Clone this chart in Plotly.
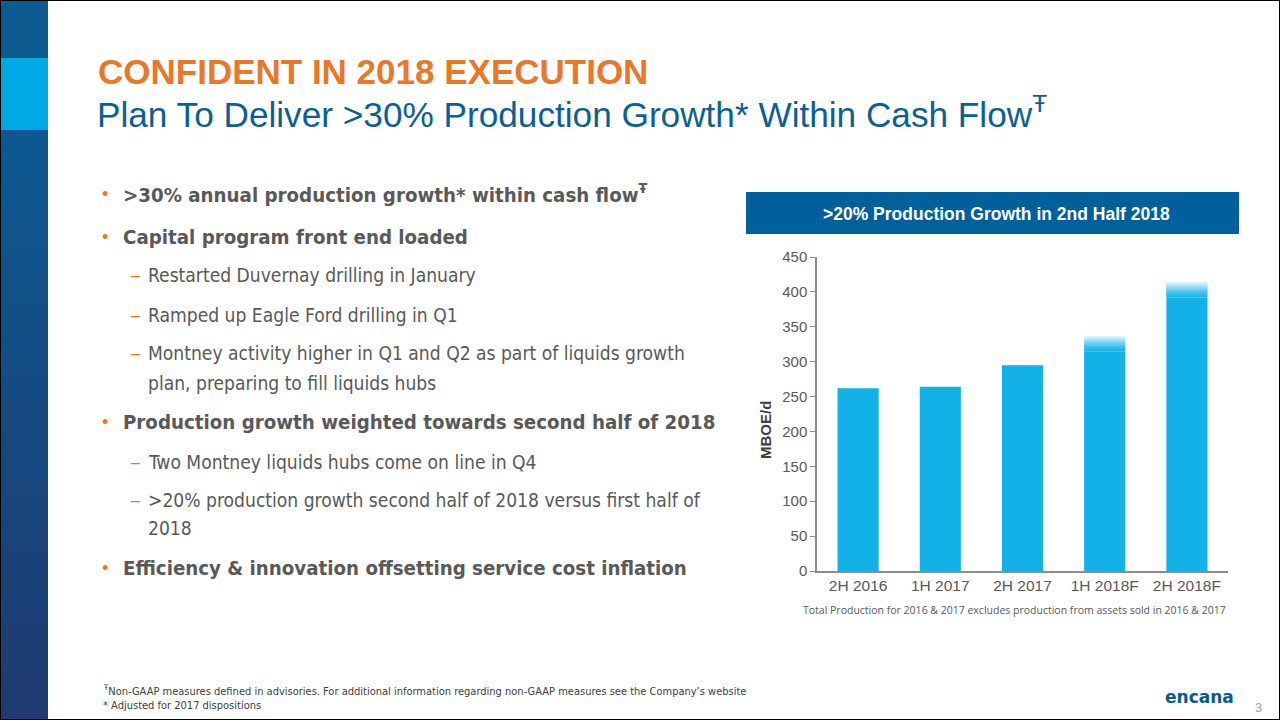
import plotly.graph_objects as go

W, H = 1280, 720

categories = ["2H 2016", "1H 2017", "2H 2017", "1H 2018F", "2H 2018F"]
production = [262, 264, 295, 337, 414]
is_forecast = [False, False, False, True, True]
y_ticks = [0, 50, 100, 150, 200, 250, 300, 350, 400, 450]

title = "CONFIDENT IN 2018 EXECUTION"
subtitle = "Plan To Deliver >30% Production Growth* Within Cash Flow<sup>Ŧ</sup>"
chart_header = ">20% Production Growth in 2nd Half 2018"
y_title = "MBOE/d"
chart_note = "Total Production for 2016 & 2017 excludes production from assets sold in 2016 & 2017"
bullets = [
    (1, "<b>>30% annual production growth* within cash flow<sup>Ŧ</sup></b>", 194),
    (1, "<b>Capital program front end loaded</b>", 237),
    (2, "Restarted Duvernay drilling in January", 275),
    (2, "Ramped up Eagle Ford drilling in Q1", 315),
    (2, "Montney activity higher in Q1 and Q2 as part of liquids growth", 353),
    (0, "plan, preparing to fill liquids hubs", 383),
    (1, "<b>Production growth weighted towards second half of 2018</b>", 422),
    (2, "Two Montney liquids hubs come on line in Q4", 462),
    (2, ">20% production growth second half of 2018 versus first half of", 500),
    (0, "2018", 528),
    (1, "<b>Efficiency & innovation offsetting service cost inflation</b>", 568),
]
footnotes = [
    "<sup>Ŧ</sup>Non-GAAP measures defined in advisories. For additional information regarding non-GAAP measures see the Company’s website",
    "* Adjusted for 2017 dispositions",
]

BAR = (18, 177, 232)
FADE = 22  # units of fade at forecast bar tops
NSEG = 12

def px(x):
    return x / W

def py(y):
    return 1 - y / H

def mix(c, t):
    return "rgb(%d,%d,%d)" % tuple(int(round(a + (255 - a) * t)) for a in c)

fig = go.Figure()

solid = [v - FADE if f else v for v, f in zip(production, is_forecast)]
fig.add_trace(go.Bar(x=categories, y=solid, marker=dict(color=mix(BAR, 0), line=dict(width=0)),
                     width=0.5, hoverinfo="skip", showlegend=False))
step = FADE / NSEG
for k in range(NSEG):
    t = ((k + 1) / NSEG) ** 1.3 * 0.85
    base = [s + k * step for s in solid]
    ys = [(step * 1.6 if k < NSEG - 1 else step) if f else 0 for f in is_forecast]
    fig.add_trace(go.Bar(x=categories, y=ys, base=base,
                         marker=dict(color=mix(BAR, t), line=dict(width=0)),
                         width=0.5, hoverinfo="skip", showlegend=False))

SANS = "Liberation Sans, Arial, sans-serif"
NARROW = "DejaVu Sans Condensed, Arial Narrow, sans-serif"

fig.update_layout(
    template="none",
    width=W, height=H, autosize=False,
    margin=dict(l=0, r=0, t=0, b=0, pad=0, autoexpand=False),
    paper_bgcolor="white", plot_bgcolor="white",
    barmode="overlay",
    bargap=0.5,
    showlegend=False,
    xaxis=dict(domain=[px(817), px(1228)], showgrid=False, showline=True, linecolor="#8c8c8c",
               linewidth=1.5, ticks="", tickfont=dict(family=SANS, size=15.5, color="#595959"),
               fixedrange=True, automargin=False),
    yaxis=dict(domain=[py(571), py(257)], range=[0, 450], tickvals=y_ticks, showgrid=False,
               showline=True, linecolor="#8c8c8c", linewidth=1.5, ticks="outside", ticklen=5,
               tickcolor="#8c8c8c", tickfont=dict(family=SANS, size=15, color="#595959"),
               zeroline=False, fixedrange=True, automargin=False),
)

shapes = []
# sidebar
shapes.append(dict(type="rect", xref="paper", yref="paper", x0=0, x1=px(48), y0=py(58), y1=1,
                   fillcolor="#0d5b90", line=dict(width=0)))
n = 24
top, bot = 130, 720
c0, c1 = (14, 88, 145), (30, 58, 112)
for i in range(n):
    t = i / (n - 1)
    c = tuple(int(round(a + (b - a) * t)) for a, b in zip(c0, c1))
    y0 = top + (bot - top) * i / n
    y1 = top + (bot - top) * (i + 1) / n
    shapes.append(dict(type="rect", xref="paper", yref="paper", x0=0, x1=px(48),
                       y0=py(min(y1 + 3, 720)), y1=py(y0), fillcolor=f"rgb{c}", line=dict(width=0)))
shapes.append(dict(type="rect", xref="paper", yref="paper", x0=0, x1=px(48), y0=py(130), y1=py(58),
                   fillcolor="#02a8e6", line=dict(width=0)))
# chart header box
shapes.append(dict(type="rect", xref="paper", yref="paper", x0=px(746), x1=px(1239),
                   y0=py(234), y1=py(192), fillcolor="#00609c", line=dict(width=0)))
# border
shapes.append(dict(type="rect", xref="paper", yref="paper", x0=0, x1=1, y0=0, y1=1,
                   line=dict(color="#000000", width=2), fillcolor="rgba(0,0,0,0)", layer="above"))

ann = []
ann.append(dict(text=f"<b>{title}</b>", x=px(96), y=py(72), xanchor="left", yanchor="middle",
                font=dict(family=SANS, size=35, color="#e8792a"), showarrow=False,
                xref="paper", yref="paper"))
ann.append(dict(text=subtitle, x=px(95), y=py(112), xanchor="left", yanchor="middle",
                font=dict(family=SANS, size=35.2, color="#0b5f95"), showarrow=False,
                xref="paper", yref="paper"))
ann.append(dict(text=f"<b>{chart_header}</b>", x=px(996), y=py(214), xanchor="center",
                yanchor="middle", font=dict(family=SANS, size=17.5, color="white"),
                showarrow=False, xref="paper", yref="paper"))
ann.append(dict(text=f"<b>{y_title}</b>", x=px(765), y=py(430), xanchor="center",
                yanchor="middle", textangle=-90, font=dict(family=SANS, size=15, color="#404040"),
                showarrow=False, xref="paper", yref="paper"))
for lvl, txt, yc in bullets:
    if lvl == 1:
        ann.append(dict(text="•", x=px(100), y=py(yc), xanchor="left", yanchor="middle",
                        font=dict(family=SANS, size=18, color="#e8792a"), showarrow=False,
                        xref="paper", yref="paper"))
        ann.append(dict(text=txt, x=px(121), y=py(yc), xanchor="left", yanchor="middle",
                        font=dict(family=NARROW, size=20.3, color="#595959"), showarrow=False,
                        xref="paper", yref="paper"))
    else:
        if lvl == 2:
            ann.append(dict(text="–", x=px(129), y=py(yc), xanchor="left", yanchor="middle",
                            font=dict(family=SANS, size=16, color="#e8792a"), showarrow=False,
                            xref="paper", yref="paper"))
        ann.append(dict(text=txt, x=px(146), y=py(yc), xanchor="left", yanchor="middle",
                        font=dict(family=NARROW, size=19.1, color="#595959"), showarrow=False,
                        xref="paper", yref="paper"))
ann.append(dict(text=chart_note, x=px(1014), y=py(610), xanchor="center", yanchor="middle",
                font=dict(family="Open Sans, sans-serif", size=10.5, color="#595959"),
                showarrow=False, xref="paper", yref="paper"))
for i, fn in enumerate(footnotes):
    ann.append(dict(text=fn, x=px(101), y=py(690 + i * 15), xanchor="left", yanchor="middle",
                    font=dict(family=NARROW, size=11, color="#404040"), showarrow=False,
                    xref="paper", yref="paper"))
ann.append(dict(text="<b>encana</b>", x=px(1199), y=py(697), xanchor="center", yanchor="middle",
                font=dict(family="DejaVu Sans, sans-serif", size=17, color="#0a5a8a"),
                showarrow=False, xref="paper", yref="paper"))
ann.append(dict(text="3", x=px(1258), y=py(707), xanchor="center", yanchor="middle",
                font=dict(family=SANS, size=13, color="#a0a0a0"), showarrow=False,
                xref="paper", yref="paper"))

fig.update_layout(shapes=shapes, annotations=ann)
post = (
    "document.documentElement.style.margin='0';document.documentElement.style.overflow='hidden';"
    "document.body.style.margin='0';document.body.style.padding='0';document.body.style.overflow='hidden';"
    "var gd=document.getElementById('{plot_id}');gd.style.position='fixed';gd.style.top='0px';"
    "gd.style.left='0px';"
)
fig.write_html("out.html", config={"displayModeBar": False}, post_script=post)
